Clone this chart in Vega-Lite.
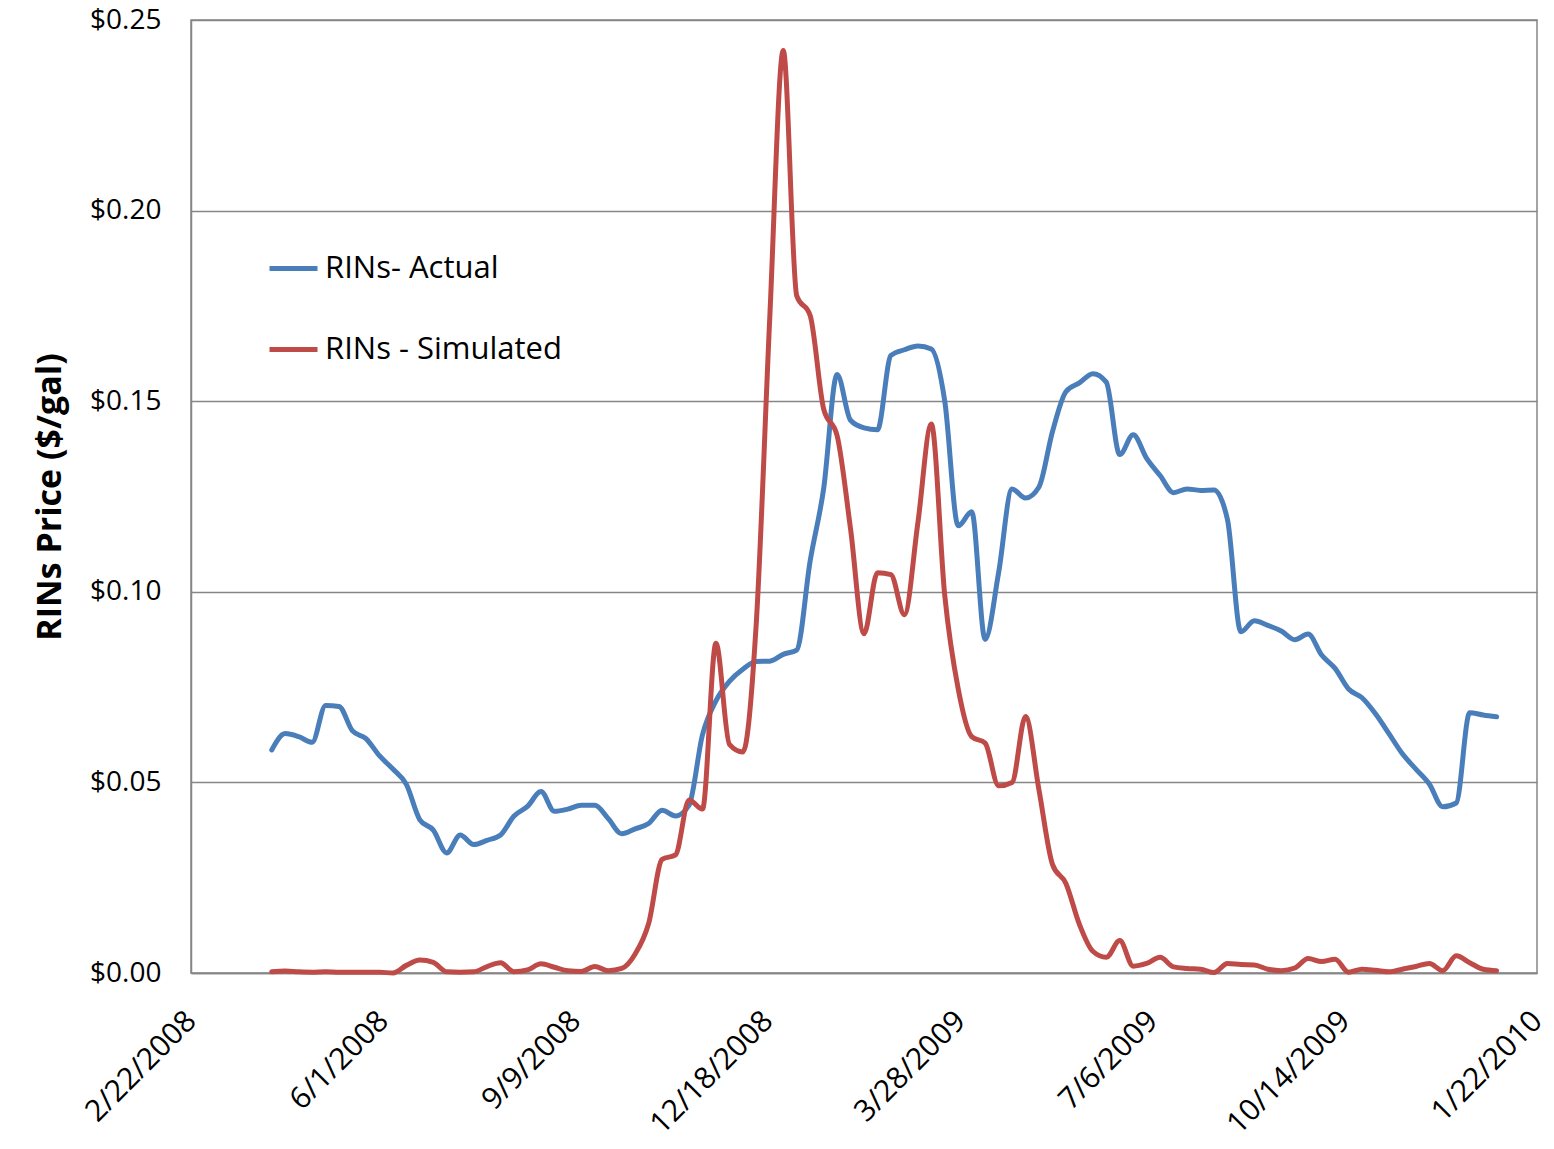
{
  "$schema": "https://vega.github.io/schema/vega-lite/v6.json",
  "width": 1346,
  "height": 953,
  "autosize": {"type": "none"},
  "padding": {"left": 191, "top": 20, "right": 17, "bottom": 176},
  "background": "white",
  "config": {
    "view": {"stroke": "#868686", "strokeWidth": 1.5},
    "font": "Open Sans"
  },
  "data": {
    "values": [
      {"date":"2008-04-04","actual":0.0585,"simulated":0.0003},
      {"date":"2008-04-11","actual":0.0628,"simulated":0.0005},
      {"date":"2008-04-18","actual":0.0620,"simulated":0.0003},
      {"date":"2008-04-25","actual":0.0605,"simulated":0.0002},
      {"date":"2008-05-02","actual":0.0702,"simulated":0.0003},
      {"date":"2008-05-09","actual":0.0699,"simulated":0.0002},
      {"date":"2008-05-16","actual":0.0635,"simulated":0.0002},
      {"date":"2008-05-23","actual":0.0615,"simulated":0.0002},
      {"date":"2008-05-30","actual":0.0570,"simulated":0.0002},
      {"date":"2008-06-06","actual":0.0535,"simulated":0.0000},
      {"date":"2008-06-13","actual":0.0495,"simulated":0.0020},
      {"date":"2008-06-20","actual":0.0402,"simulated":0.0034},
      {"date":"2008-06-27","actual":0.0375,"simulated":0.0028},
      {"date":"2008-07-04","actual":0.0315,"simulated":0.0003},
      {"date":"2008-07-11","actual":0.0362,"simulated":0.0002},
      {"date":"2008-07-18","actual":0.0337,"simulated":0.0003},
      {"date":"2008-07-25","actual":0.0348,"simulated":0.0017},
      {"date":"2008-08-01","actual":0.0362,"simulated":0.0027},
      {"date":"2008-08-08","actual":0.0412,"simulated":0.0003},
      {"date":"2008-08-15","actual":0.0437,"simulated":0.0008},
      {"date":"2008-08-22","actual":0.0476,"simulated":0.0024},
      {"date":"2008-08-29","actual":0.0424,"simulated":0.0015},
      {"date":"2008-09-05","actual":0.0430,"simulated":0.0006},
      {"date":"2008-09-12","actual":0.0440,"simulated":0.0004},
      {"date":"2008-09-19","actual":0.0440,"simulated":0.0017},
      {"date":"2008-09-26","actual":0.0405,"simulated":0.0006},
      {"date":"2008-10-03","actual":0.0365,"simulated":0.0012},
      {"date":"2008-10-10","actual":0.0378,"simulated":0.0050},
      {"date":"2008-10-17","actual":0.0392,"simulated":0.0130},
      {"date":"2008-10-24","actual":0.0427,"simulated":0.0298},
      {"date":"2008-10-31","actual":0.0412,"simulated":0.0310},
      {"date":"2008-11-07","actual":0.0440,"simulated":0.0454},
      {"date":"2008-11-14","actual":0.0625,"simulated":0.0430},
      {"date":"2008-11-21","actual":0.0714,"simulated":0.0865},
      {"date":"2008-11-28","actual":0.0765,"simulated":0.0600},
      {"date":"2008-12-05","actual":0.0797,"simulated":0.0580},
      {"date":"2008-12-12","actual":0.0817,"simulated":0.0920},
      {"date":"2008-12-19","actual":0.0818,"simulated":0.1720},
      {"date":"2008-12-26","actual":0.0836,"simulated":0.2420},
      {"date":"2009-01-02","actual":0.0847,"simulated":0.1777},
      {"date":"2009-01-09","actual":0.1081,"simulated":0.1725},
      {"date":"2009-01-16","actual":0.1270,"simulated":0.1480},
      {"date":"2009-01-23","actual":0.1570,"simulated":0.1410},
      {"date":"2009-01-30","actual":0.1450,"simulated":0.1165},
      {"date":"2009-02-06","actual":0.1430,"simulated":0.0890},
      {"date":"2009-02-13","actual":0.1425,"simulated":0.1050},
      {"date":"2009-02-20","actual":0.1620,"simulated":0.1045},
      {"date":"2009-02-27","actual":0.1635,"simulated":0.0940},
      {"date":"2009-03-06","actual":0.1645,"simulated":0.1180},
      {"date":"2009-03-13","actual":0.1637,"simulated":0.1440},
      {"date":"2009-03-20","actual":0.1500,"simulated":0.0990},
      {"date":"2009-03-27","actual":0.1173,"simulated":0.0745},
      {"date":"2009-04-03","actual":0.1210,"simulated":0.0620},
      {"date":"2009-04-10","actual":0.0875,"simulated":0.0603},
      {"date":"2009-04-17","actual":0.1050,"simulated":0.0491},
      {"date":"2009-04-24","actual":0.1270,"simulated":0.0500},
      {"date":"2009-05-01","actual":0.1246,"simulated":0.0673},
      {"date":"2009-05-08","actual":0.1275,"simulated":0.0480},
      {"date":"2009-05-15","actual":0.1420,"simulated":0.0285},
      {"date":"2009-05-22","actual":0.1525,"simulated":0.0235},
      {"date":"2009-05-29","actual":0.1548,"simulated":0.0128},
      {"date":"2009-06-05","actual":0.1572,"simulated":0.0057},
      {"date":"2009-06-12","actual":0.1550,"simulated":0.0041},
      {"date":"2009-06-19","actual":0.1360,"simulated":0.0085},
      {"date":"2009-06-26","actual":0.1412,"simulated":0.0018},
      {"date":"2009-07-03","actual":0.1350,"simulated":0.0025},
      {"date":"2009-07-10","actual":0.1305,"simulated":0.0041},
      {"date":"2009-07-17","actual":0.1260,"simulated":0.0016},
      {"date":"2009-07-24","actual":0.1270,"simulated":0.0012},
      {"date":"2009-07-31","actual":0.1266,"simulated":0.0010},
      {"date":"2009-08-07","actual":0.1267,"simulated":0.0001},
      {"date":"2009-08-14","actual":0.1190,"simulated":0.0025},
      {"date":"2009-08-21","actual":0.0895,"simulated":0.0022},
      {"date":"2009-08-28","actual":0.0924,"simulated":0.0021},
      {"date":"2009-09-04","actual":0.0912,"simulated":0.0010},
      {"date":"2009-09-11","actual":0.0897,"simulated":0.0006},
      {"date":"2009-09-18","actual":0.0874,"simulated":0.0013},
      {"date":"2009-09-25","actual":0.0889,"simulated":0.0038},
      {"date":"2009-10-02","actual":0.0834,"simulated":0.0030},
      {"date":"2009-10-09","actual":0.0799,"simulated":0.0036},
      {"date":"2009-10-16","actual":0.0745,"simulated":0.0002},
      {"date":"2009-10-23","actual":0.0722,"simulated":0.0010},
      {"date":"2009-10-30","actual":0.0680,"simulated":0.0007},
      {"date":"2009-11-06","actual":0.0628,"simulated":0.0003},
      {"date":"2009-11-13","actual":0.0575,"simulated":0.0010},
      {"date":"2009-11-20","actual":0.0535,"simulated":0.0017},
      {"date":"2009-11-27","actual":0.0496,"simulated":0.0025},
      {"date":"2009-12-04","actual":0.0436,"simulated":0.0006},
      {"date":"2009-12-11","actual":0.0446,"simulated":0.0045},
      {"date":"2009-12-18","actual":0.0683,"simulated":0.0027},
      {"date":"2009-12-25","actual":0.0677,"simulated":0.0010},
      {"date":"2010-01-01","actual":0.0672,"simulated":0.0006}
    ]
  },
  "transform": [{"fold": ["actual", "simulated"], "as": ["series", "value"]}],
  "mark": {"type": "line", "interpolate": "monotone", "strokeWidth": 5, "strokeCap": "round", "strokeJoin": "round"},
  "encoding": {
    "x": {
      "field": "date",
      "type": "temporal",
      "scale": {
        "type": "utc",
        "domain": [
          {"year": 2008, "month": 2, "date": 22, "utc": true},
          {"year": 2010, "month": 1, "date": 22, "utc": true}
        ],
        "nice": false
      },
      "axis": {
        "title": null,
        "values": [
          {"year": 2008, "month": 2, "date": 22, "utc": true},
          {"year": 2008, "month": 6, "date": 1, "utc": true},
          {"year": 2008, "month": 9, "date": 9, "utc": true},
          {"year": 2008, "month": 12, "date": 18, "utc": true},
          {"year": 2009, "month": 3, "date": 28, "utc": true},
          {"year": 2009, "month": 7, "date": 6, "utc": true},
          {"year": 2009, "month": 10, "date": 14, "utc": true},
          {"year": 2010, "month": 1, "date": 22, "utc": true}
        ],
        "format": "%-m/%-d/%Y",
        "labelAngle": -45,
        "labelAlign": "right",
        "labelBaseline": "middle",
        "labelFontSize": 30,
        "labelFont": "Open Sans",
        "labelColor": "black",
        "labelPadding": 43,
        "labelOverlap": false,
        "labelBound": false,
        "labelFlush": false,
        "ticks": false,
        "grid": false,
        "domainColor": "#868686",
        "domainWidth": 1.5
      }
    },
    "y": {
      "field": "value",
      "type": "quantitative",
      "scale": {"domain": [0, 0.25], "nice": false},
      "axis": {
        "title": "RINs Price ($/gal)",
        "titleFont": "Open Sans",
        "titleFontWeight": "bold",
        "titleFontSize": 34,
        "titleColor": "black",
        "titlePadding": 22,
        "values": [0, 0.05, 0.1, 0.15, 0.2, 0.25],
        "format": "$.2f",
        "labelFont": "Open Sans",
        "labelFontSize": 28,
        "labelColor": "black",
        "labelPadding": 30,
        "ticks": false,
        "grid": true,
        "gridColor": "#868686",
        "gridWidth": 1.5,
        "domainColor": "#868686",
        "domainWidth": 1.5
      }
    },
    "color": {
      "field": "series",
      "type": "nominal",
      "scale": {"domain": ["actual", "simulated"], "range": ["#4A7EBB", "#BE4B48"]},
      "legend": {
        "title": null,
        "orient": "none",
        "legendX": 76,
        "legendY": 222,
        "symbolType": "stroke",
        "symbolSize": 2304,
        "symbolStrokeWidth": 5,
        "labelFont": "Open Sans",
        "labelFontSize": 31,
        "labelColor": "black",
        "labelOffset": 5,
        "labelLimit": 0,
        "rowPadding": 39,
        "labelExpr": "datum.label == 'actual' ? 'RINs- Actual' : 'RINs - Simulated'"
      }
    }
  }
}
